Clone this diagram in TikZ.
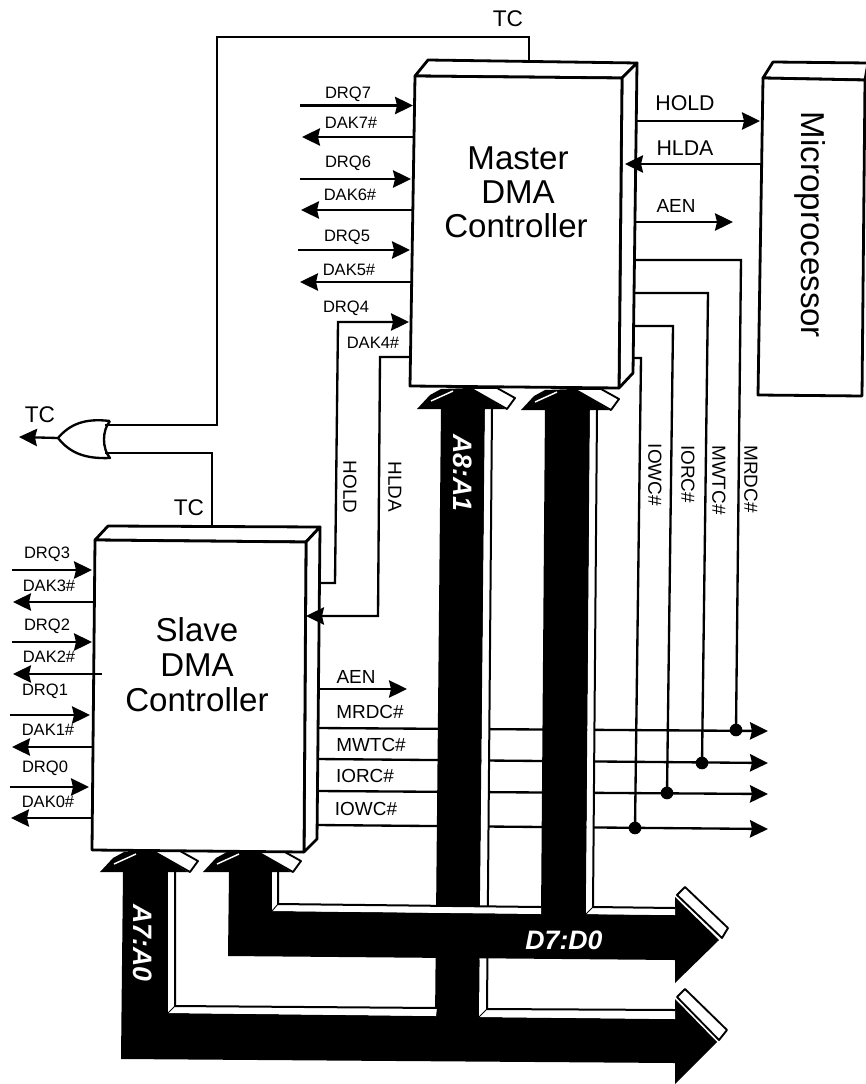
\documentclass[tikz,border=0pt]{standalone}
\usepackage{fontspec}
\setmainfont{Liberation Sans}
\usetikzlibrary{arrows.meta}
\newcommand{\fs}[1]{\fontsize{#1}{#1}\selectfont}
\tikzset{
  sig/.style={line width=1.75pt,line cap=butt,line join=miter},
  arr/.style={sig,-{Stealth[length=13.5pt,width=13pt,inset=1.5pt]}},
  boxface/.style={draw=black,fill=white,line width=2.1pt,line join=round},
  busfill/.style={fill=black,draw=none},
  strip/.style={fill=white,draw=none},
  edge/.style={line width=1.5pt,line join=round},
  endcap/.style={fill=white,draw=black,line width=1.4pt,line join=round},
  slit/.style={draw=white,line width=1.1pt},
  lblS/.style={inner sep=0pt,font=\fs{12.4}},
  lblM/.style={inner sep=0pt,font=\fs{14.2}},
  lblL/.style={inner sep=0pt,font=\fs{16}},
  lblT/.style={inner sep=0pt,font=\fs{17}},
  title/.style={inner sep=0pt,font=\fs{24.8}},
  buslbl/.style={inner sep=0pt,text=white,font=\fs{20}\bfseries\itshape},
  jdot/.style={circle,fill=black,inner sep=0pt,minimum size=9.5pt},
}
\newcommand{\bushead}[2]{%
  \begin{scope}[shift={(#1,#2)}]
    \fill[black] (0,20) -- (13,6) -- (24,0) -- (53,-1) -- (88,20) -- cycle;
    \draw[slit] (14,12) -- (36,2);
    \draw[endcap] (53,-1) -- (80,-1) -- (98,9) -- (90,20) -- cycle;
  \end{scope}}
\begin{document}
\begin{tikzpicture}[x=0.75pt,y=-0.75pt]
\useasboundingbox (0,0) rectangle (866,1084);
\fill[white] (0,0) rectangle (866,1084);

% slave bus-side signals, under the buses
\coordinate (sMRDC) at (317,728); \coordinate (oMRDC) at (768,731);
\coordinate (sMWTC) at (317,759); \coordinate (oMWTC) at (768,763);
\coordinate (sIORC) at (317,791); \coordinate (oIORC) at (768,794);
\coordinate (sIOWC) at (317,825); \coordinate (oIOWC) at (768,829);
\foreach \n in {MRDC,MWTC,IORC,IOWC} \draw[arr] (s\n) -- (o\n);

% A bus: A7:A0 bar and A8:A1 shaft
\fill[black] (123,872) -- (168,872) -- (168,1013) -- (437,1016) -- (437,960) -- (481,960) -- (479,1017) -- (675,1019) -- (675,999) -- (717,1042) -- (675,1084) -- (675,1063) -- (121,1059) -- cycle;
\fill[black] (441,405) -- (485,405) -- (479,1020) -- (435,1020) -- cycle;
\fill[strip] (168,872) -- (175,872) -- (175,1006) -- (437,1008) -- (436,1016) -- (168,1013) -- cycle;
\draw[edge] (175,872) -- (175,1006) -- (437,1008);
\draw[edge,line width=.7pt] (175,1006) -- (168,1013);
\fill[strip] (485,409) -- (492,409) -- (487,1009) -- (675,1010) -- (675,1019) -- (479,1017) -- cycle;
\draw[edge] (492,409) -- (487,1009) -- (675,1010);
\draw[edge,line width=.7pt] (487,1009) -- (479,1017);

% D bus
\fill[black] (229,872) -- (272,872) -- (272,911) -- (675,915) -- (675,897) -- (719,940) -- (675,983) -- (675,960) -- (228,956) -- cycle;
\fill[black] (545,405) -- (590,405) -- (586,916) -- (541,916) -- cycle;
\fill[strip] (272,872) -- (278,872) -- (278,904) -- (541,907) -- (541,914) -- (272,911) -- cycle;
\draw[edge] (278,872) -- (278,904) -- (541,907);
\draw[edge,line width=.7pt] (278,904) -- (272,911);
\fill[strip] (590,410) -- (597,410) -- (593,907) -- (675,908) -- (675,915) -- (586,914) -- cycle;
\draw[edge] (597,410) -- (593,907) -- (675,908);
\draw[edge,line width=.7pt] (593,907) -- (586,914);

% bar ends
\draw[endcap] (677,895) -- (685,887) -- (728,928) -- (722,938) -- cycle;
\draw[endcap] (677,997) -- (685,989) -- (727,1030) -- (719,1040) -- cycle;

% arrow heads going into the boxes
\bushead{417}{389}
\bushead{521}{390}
\bushead{100}{852}
\bushead{203}{852}

% boxes
\coordinate (mFTL) at (415,76); \coordinate (mFTR) at (622,78);
\coordinate (mFBR) at (619,388); \coordinate (mFBL) at (410,386);
\coordinate (mBTL) at (428,60); \coordinate (mBTR) at (637,63);
\coordinate (mBBR) at (633,373);
\draw[boxface] (mFTL) -- (mBTL) -- (mBTR) -- (mFTR) -- cycle;
\draw[boxface] (mFTR) -- (mBTR) -- (mBBR) -- (mFBR) -- cycle;
\draw[boxface] (mFTL) -- (mFTR) -- (mFBR) -- (mFBL) -- cycle;

\coordinate (sFTL) at (95,540); \coordinate (sFTR) at (306,542);
\coordinate (sFBR) at (304,852); \coordinate (sFBL) at (92,850);
\coordinate (sBTL) at (108,526); \coordinate (sBTR) at (320,527);
\coordinate (sBBR) at (317,839);
\draw[boxface] (sFTL) -- (sBTL) -- (sBTR) -- (sFTR) -- cycle;
\draw[boxface] (sFTR) -- (sBTR) -- (sBBR) -- (sFBR) -- cycle;
\draw[boxface] (sFTL) -- (sFTR) -- (sFBR) -- (sFBL) -- cycle;

\coordinate (cFTL) at (763,78); \coordinate (cFTR) at (865,80);
\coordinate (cFBR) at (862,396); \coordinate (cFBL) at (758,395);
\coordinate (cBTL) at (773,62); \coordinate (cBTR) at (868,63);
\draw[boxface] (cFTL) -- (cBTL) -- (cBTR) -- (cFTR) -- cycle;
\draw[boxface] (cFTL) -- (cFTR) -- (cFBR) -- (cFBL) -- cycle;

% left signals and single-line signals
\foreach \n/\xa/\xb/\y in {DRQ7/300/413/105.5,DRQ6/300/411/179,DRQ5/298/410/250,DAK7/413/302/137,DAK6/412/301/210,DAK5/411/300/282,
  SRQ3/12/92/570,SRQ2/12/92/642,SRQ1/10/90/715,SRQ0/10/89/787,SAK3/95/13/602,SAK2/102/13/674,SAK1/92/12/747,SAK0/92/11/818,
  HOLD/637/760/121,HLDA/761/625/164,AEN/635/733/222,sAEN/317/407/689}{
  \coordinate (\n-a) at (\xa,\y); \coordinate (\n-b) at (\xb,\y);
  \draw[arr] (\n-a) -- (\n-b);
}

% cascade
\coordinate (hold-s) at (319,583); \coordinate (hold-c1) at (335,583);
\coordinate (hold-c2) at (338,322); \coordinate (hold-m) at (409,322);
\draw[arr] (hold-s) -- (hold-c1) -- (hold-c2) -- (hold-m);
\coordinate (dak4-m) at (410,357); \coordinate (dak4-c1) at (380,357);
\coordinate (dak4-c2) at (378,616); \coordinate (dak4-s) at (306,616);
\draw[arr] (dak4-m) -- (dak4-c1) -- (dak4-c2) -- (dak4-s);

% junctions and command lines
\node[jdot] (jMRDC) at (736,730) {};
\node[jdot] (jMWTC) at (702,763) {};
\node[jdot] (jIORC) at (667,793) {};
\node[jdot] (jIOWC) at (635,828) {};
\foreach \n/\y/\xc in {MRDC/260/741,MWTC/293/708,IORC/326/673,IOWC/358/641}{
  \coordinate (m\n) at (633,\y); \coordinate (c\n) at (\xc,\y);
  \draw[sig] (m\n) -- (c\n) -- (j\n.center);
}

% OR gate and TC
\coordinate (gA) at (105,425); \coordinate (gB) at (105,453); \coordinate (gO) at (58,438);
\coordinate (gT) at (110,421); \coordinate (gU) at (110,458);
\draw[sig,line join=round] (gT) .. controls (102,430) and (102,449) .. (gU)
  .. controls (85,459) and (70,453) .. (gO) .. controls (70,424) and (85,418) .. (gT);
\coordinate (gOut) at (19,437);
\draw[arr] (gO) -- (gOut);
\coordinate (mTC) at (529,62); \coordinate (tcCorner) at (217,37);
\draw[sig] (mTC) |- (tcCorner) |- (gA);
\coordinate (sTC) at (212,527);
\draw[sig] (sTC) |- (gB);

% labels
\node[lblS] (lDRQ7) at (348,94) {DRQ7};
\node[lblS] (lDAK7) at (351,123) {DAK7\#};
\node[lblS] (lDRQ6) at (348,163) {DRQ6};
\node[lblS] (lDAK6) at (350,195) {DAK6\#};
\node[lblS] (lDRQ5) at (347,237) {DRQ5};
\node[lblS] (lDAK5) at (349,270) {DAK5\#};
\node[lblS] (lDRQ4) at (346,308) {DRQ4};
\node[lblS] (lDAK4) at (373,343) {DAK4\#};
\node[lblS] (lDRQ3) at (47,554) {DRQ3};
\node[lblS] (lDAK3) at (49,586) {DAK3\#};
\node[lblS] (lDRQ2) at (47,626) {DRQ2};
\node[lblS] (lDAK2) at (49,657) {DAK2\#};
\node[lblS] (lDRQ1) at (45,691) {DRQ1};
\node[lblS] (lDAK1) at (48,730) {DAK1\#};
\node[lblS] (lDRQ0) at (45,768) {DRQ0};
\node[lblS] (lDAK0) at (48,802) {DAK0\#};
\node[lblT] (lTCa) at (508,19) {TC};
\node[lblT] (lTCb) at (40,415) {TC};
\node[lblT] (lTCc) at (189,508) {TC};
\node[lblL] (lHOLD) at (685,103) {HOLD};
\node[lblL] (lHLDA) at (685,148) {HLDA};
\node[lblM] (lAEN) at (676,206) {AEN};
\node[lblM] (lsAEN) at (356,677) {AEN};
\node[lblM] (lsMRDC) at (370,712) {MRDC\#};
\node[lblM] (lsMWTC) at (371,745) {MWTC\#};
\node[lblM] (lsIORC) at (365,776) {IORC\#};
\node[lblM] (lsIOWC) at (366,809) {IOWC\#};
\node[lblM,rotate=-90] (lvHOLD) at (350,487) {HOLD};
\node[lblM,rotate=-90] (lvHLDA) at (395,487) {HLDA};
\node[lblM,rotate=-90] (lvIOWC) at (655,475) {IOWC\#};
\node[lblM,rotate=-90] (lvIORC) at (688,474) {IORC\#};
\node[lblM,rotate=-90] (lvMWTC) at (719,480) {MWTC\#};
\node[lblM,rotate=-90] (lvMRDC) at (751,479) {MRDC\#};
\node[title] (tM1) at (518,158) {Master};
\node[title] (tM2) at (518,192) {DMA};
\node[title] (tM3) at (516,226) {Controller};
\node[title] (tS1) at (197,630) {Slave};
\node[title] (tS2) at (197,665) {DMA};
\node[title] (tS3) at (197,700) {Controller};
\node[title,rotate=-90] (tP) at (810,225) {Microprocessor};
\node[buslbl,rotate=-90] (lA8) at (463,473) {A8:A1};
\node[buslbl,rotate=-90] (lA7) at (143,943) {A7:A0};
\node[buslbl] (lD7) at (564,940) {D7:D0};
\end{tikzpicture}
\end{document}
